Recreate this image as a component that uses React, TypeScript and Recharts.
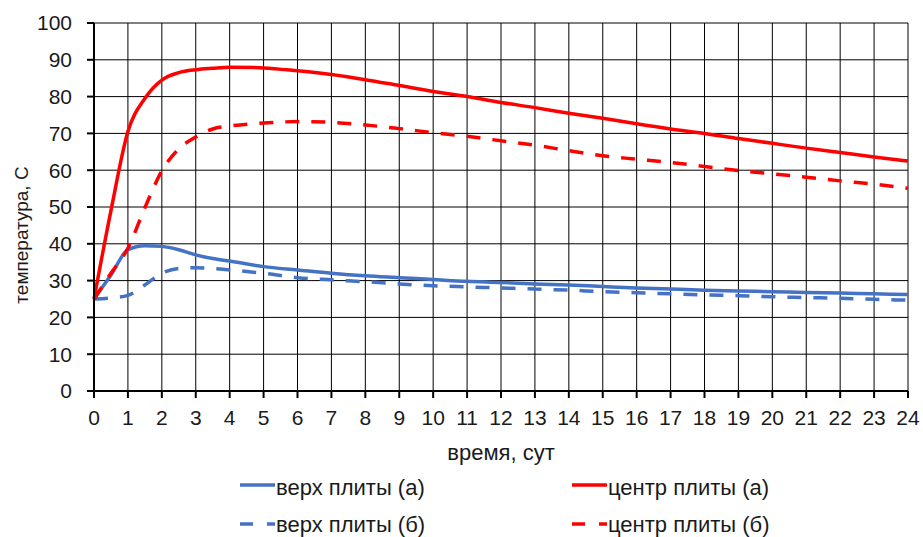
import { LineChart, Line, XAxis, YAxis, CartesianGrid, Legend } from "recharts";

const days = [0, 0.5, 1, 1.5, 2, 2.5, 3, 3.5, 4, 5, 6, 7, 8, 9, 10, 11, 12, 13, 14, 15, 16, 17, 18, 19, 20, 21, 22, 23, 24];
const topA = [25, 31.5, 38.4, 39.5, 39.3, 38.4, 37, 36, 35.3, 33.8, 32.9, 32, 31.3, 30.8, 30.3, 29.8, 29.5, 29.1, 28.8, 28.4, 28, 27.7, 27.4, 27.2, 27, 26.8, 26.6, 26.4, 26.2];
const centerA = [25, 49, 70.5, 79.5, 84.5, 86.5, 87.3, 87.7, 88, 87.8, 87, 86, 84.6, 83, 81.4, 80, 78.4, 77, 75.5, 74.1, 72.6, 71.2, 70, 68.6, 67.3, 66, 64.8, 63.6, 62.5];
const topB = [25, 25.3, 26, 28.8, 32, 33.3, 33.5, 33.3, 32.9, 32, 30.8, 30.2, 29.7, 29.1, 28.6, 28.3, 28, 27.7, 27.4, 27, 26.7, 26.4, 26.1, 25.9, 25.6, 25.4, 25.2, 24.9, 24.7];
const centerB = [25, 32, 38.8, 49.8, 59.8, 65.8, 69, 71.2, 72, 72.8, 73.2, 73, 72.3, 71.3, 70.2, 69.2, 68, 66.8, 65.3, 63.9, 63, 62.1, 61, 59.9, 59, 58.1, 57.1, 56.2, 55.1];

const xTicks = Array.from({ length: 25 }, (_, i) => i);
const yTicks = [0, 10, 20, 30, 40, 50, 60, 70, 80, 90, 100];

const data = days.map((d, i) => ({ day: d, topA: topA[i], centerA: centerA[i], topB: topB[i], centerB: centerB[i] }));

const BLUE = "#4472C4";
const RED = "#FF0000";
const FONT = "'Liberation Sans', Arial, sans-serif";
const TEXT = "#1a1a1a";
const tickStyle = { fontSize: 21, fill: TEXT, fontFamily: FONT };

function LegendBox() {
  // two rows, two columns like the Excel legend
  const items = [
    { x: 240, y: 19, dy: 10, color: BLUE, dash: undefined, label: "верх плиты (а)" },
    { x: 572, y: 19, dy: 10, color: RED, dash: undefined, label: "центр плиты (а)" },
    { x: 240, y: 58, dy: 8, color: BLUE, dash: "13 14", label: "верх плиты (б)" },
    { x: 572, y: 58, dy: 8, color: RED, dash: "13 14", label: "центр плиты (б)" },
  ];
  return (
    <svg width={923} height={71} style={{ display: "block" }}>
      {items.map((it) => (
        <g key={it.label}>
          <line x1={it.x} x2={it.x + 35} y1={it.y} y2={it.y} stroke={it.color} strokeWidth={3.5} strokeDasharray={it.dash} />
          <text x={it.x + 36} y={it.y + it.dy} fontSize={22} fontFamily={FONT} fill={TEXT}>{it.label}</text>
        </g>
      ))}
    </svg>
  );
}

const xLabel = (props: any) => {
  const vb = props.viewBox;
  return (
    <text x={vb.x + vb.width / 2} y={vb.y + 69} textAnchor="middle" fontSize={22} fontFamily={FONT} fill={TEXT}>
      время, сут
    </text>
  );
};

const yLabel = (props: any) => {
  const vb = props.viewBox;
  const cx = 21;
  const cy = vb.y + vb.height / 2 + 28;
  return (
    <text x={cx} y={cy} transform={`rotate(-90, ${cx}, ${cy})`} textAnchor="middle" dominantBaseline="central" fontSize={19} fontFamily={FONT} fill={TEXT}>
      температура, С
    </text>
  );
};

export default function App() {
  return (
    <div style={{ position: "absolute", left: 0, top: 0, background: "#fff" }}>
      <LineChart width={923} height={537} data={data} margin={{ top: 23, right: 15, bottom: 66, left: 0 }}>
        <CartesianGrid stroke="#000" strokeWidth={1} />
        <XAxis
          dataKey="day"
          type="number"
          domain={[0, 24]}
          ticks={xTicks}
          interval={0}
          height={80}
          tick={tickStyle}
          tickSize={7}
          tickMargin={12}
          axisLine={{ stroke: "#000", strokeWidth: 2 }}
          tickLine={{ stroke: "#000", strokeWidth: 2 }}
          label={xLabel}
        />
        <YAxis
          type="number"
          domain={[0, 100]}
          ticks={yTicks}
          interval={0}
          width={94}
          tick={tickStyle}
          tickSize={7}
          tickMargin={15}
          axisLine={{ stroke: "#000", strokeWidth: 2 }}
          tickLine={{ stroke: "#000", strokeWidth: 2 }}
          label={yLabel}
        />
        <Legend
          layout="horizontal"
          verticalAlign="middle"
          align="center"
          wrapperStyle={{ top: 466, left: 0, width: 923 }}
          content={() => <LegendBox />}
        />
        <Line type="monotone" dataKey="topA" name="верх плиты (а)" stroke={BLUE} strokeWidth={3.5} dot={false} isAnimationActive={false} />
        <Line type="monotone" dataKey="centerA" name="центр плиты (а)" stroke={RED} strokeWidth={3.5} dot={false} isAnimationActive={false} />
        <Line type="monotone" dataKey="topB" name="верх плиты (б)" stroke={BLUE} strokeWidth={3.5} strokeDasharray="14 12" dot={false} isAnimationActive={false} />
        <Line type="monotone" dataKey="centerB" name="центр плиты (б)" stroke={RED} strokeWidth={3.5} strokeDasharray="14 12" dot={false} isAnimationActive={false} />
      </LineChart>
    </div>
  );
}
